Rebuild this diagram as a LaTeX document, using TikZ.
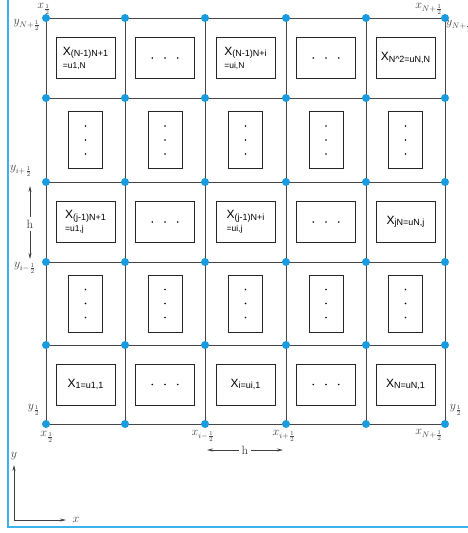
\documentclass[tikz,border=0pt]{standalone}
\usepackage{fontspec}
\newfontfamily\sff{Liberation Sans}
\usetikzlibrary{arrows.meta}
\definecolor{dotblue}{RGB}{25,155,225}
\definecolor{frameblue}{RGB}{60,180,235}
\definecolor{gridgray}{RGB}{70,70,70}
\newcommand\Xsub[1]{X\raisebox{-1.5pt}{\fontsize{9}{10}\selectfont #1}}
\newcommand\Usmall[1]{{\fontsize{8.5}{9}\selectfont #1}}
\tikzset{
  gridline/.style={draw=gridgray, line width=0.9pt},
  gdot/.style={circle, fill=dotblue, inner sep=0pt, minimum size=8pt},
  widebox/.style={draw=black!85, line width=0.8pt, minimum width=59pt, minimum height=41pt, inner sep=1pt, align=left, font=\sff\fontsize{12}{12}\selectfont},
  tallbox/.style={draw=black!85, line width=0.8pt, minimum width=34pt, minimum height=57pt, inner sep=0pt},
  coordlbl/.style={inner sep=0pt, text=black!75, font=\fontsize{12}{13}\selectfont},
  arr/.style={-{Stealth[length=6pt,width=3pt]}, line width=0.7pt, draw=black!75}
}
\begin{document}
\begin{tikzpicture}[x=1pt,y=-1pt]
\useasboundingbox (0,0) rectangle (467,533);
% blue frame
\draw[frameblue, line width=1.4pt] (8,-2) -- (8,527) -- (469,527);
% grid points
\foreach \xx [count=\i from 0] in {46,125,205,286,366,445}{
  \foreach \yy [count=\j from 0] in {424,345,262,182,98,18}{
    \coordinate (p-\i-\j) at (\xx,\yy);
  }
}
\foreach \k in {0,...,5}{
  \draw[gridline] (p-0-\k) -- (p-5-\k);
  \draw[gridline] (p-\k-0) -- (p-\k-5);
}
\foreach \i in {0,...,5}{
  \foreach \j in {0,...,5}{
    \node[gdot] (d-\i-\j) at (p-\i-\j) {};
  }
}
% cell centres
\foreach \cx [count=\i from 1] in {85.5,165,245.5,326,405.5}{
  \foreach \cy [count=\j from 1] in {384.5,303.5,222,140,58}{
    \coordinate (c-\i-\j) at (\cx,\cy);
  }
}
% row 5 (top)
\node[widebox] (b-1-5) at (c-1-5) {\Xsub{(N-1)N+1}\\[1pt]\Usmall{=u1,N}};
\node[widebox] (b-2-5) at (c-2-5) {};
\node[widebox] (b-3-5) at (c-3-5) {\Xsub{(N-1)N+i}\\[1pt]\Usmall{=ui,N}};
\node[widebox] (b-4-5) at (c-4-5) {};
\node[widebox] (b-5-5) at (c-5-5) {\Xsub{N\^{}2=uN,N}};
% row 3
\node[widebox] (b-1-3) at (c-1-3) {\Xsub{(j-1)N+1}\\[1pt]\Usmall{=u1,j}};
\node[widebox] (b-2-3) at (c-2-3) {};
\node[widebox] (b-3-3) at (c-3-3) {\Xsub{(j-1)N+i}\\[1pt]\Usmall{=ui,j}};
\node[widebox] (b-4-3) at (c-4-3) {};
\node[widebox] (b-5-3) at (c-5-3) {\Xsub{jN=uN,j}};
% row 1 (bottom)
\node[widebox] (b-1-1) at (c-1-1) {\Xsub{1=u1,1}};
\node[widebox] (b-2-1) at (c-2-1) {};
\node[widebox] (b-3-1) at (c-3-1) {\Xsub{i=ui,1}};
\node[widebox] (b-4-1) at (c-4-1) {};
\node[widebox] (b-5-1) at (c-5-1) {\Xsub{N=uN,1}};
% horizontal dots
\foreach \i/\j in {2/5,4/5,2/3,4/3,2/1,4/1}{
  \foreach \o in {-12.7,0,12.7}{
    \fill (b-\i-\j.center) ++(\o,0) circle (0.9pt);
  }
}
% tall boxes rows 2 and 4
\foreach \i in {1,...,5}{
  \foreach \j in {2,4}{
    \node[tallbox] (t-\i-\j) at (c-\i-\j) {};
    \foreach \o in {-14,0,14}{
      \fill (t-\i-\j.center) ++(0,\o) circle (0.9pt);
    }
  }
}
% coordinate labels
\node[coordlbl] (lx0t) at (44,9) {$x_{\frac{1}{2}}$};
\node[coordlbl] (lyNl) at (27,25) {$y_{N+\frac{1}{2}}$};
\node[coordlbl] (lxNt) at (429,9) {$x_{N+\frac{1}{2}}$};
\node[coordlbl, anchor=west] (lyNr) at (446,26) {$y_{N+\frac{1}{2}}$};
\node[coordlbl] (lyip) at (21,171) {$y_{i+\frac{1}{2}}$};
\node[coordlbl] (lyim) at (25,268) {$y_{i-\frac{1}{2}}$};
\node[coordlbl] (ly0l) at (34,410) {$y_{\frac{1}{2}}$};
\node[coordlbl] (lx0b) at (47,437) {$x_{\frac{1}{2}}$};
\node[coordlbl] (lxim) at (203,436) {$x_{i-\frac{1}{2}}$};
\node[coordlbl] (lxip) at (284,436) {$x_{i+\frac{1}{2}}$};
\node[coordlbl] (lxNb) at (429,435) {$x_{N+\frac{1}{2}}$};
\node[coordlbl] (ly0r) at (456,410) {$y_{\frac{1}{2}}$};
% h arrows
\node[coordlbl, font=\fontsize{12}{12}\selectfont] (hv) at (30,224) {h};
\coordinate (hvt) at (30,186);
\coordinate (hvb) at (30,259);
\draw[arr] (hv.north) ++(0,-3) -- (hvt);
\draw[arr] (hv.south) ++(0,3) -- (hvb);
\node[coordlbl, font=\fontsize{12}{12}\selectfont] (hh) at (245,450) {h};
\coordinate (hhl) at (207,450);
\coordinate (hhr) at (283,450);
\draw[arr] (hh.west) ++(-3,0) -- (hhl);
\draw[arr] (hh.east) ++(3,0) -- (hhr);
% axes
\coordinate (o) at (14,520);
\coordinate (ya) at (14,465);
\coordinate (xa) at (66,520);
\draw[arr] (o) -- (ya);
\draw[arr] (o) -- (xa);
\node[coordlbl] (ylab) at (14,456) {$y$};
\node[coordlbl] (xlab) at (76,520) {$x$};
\end{tikzpicture}
\end{document}
